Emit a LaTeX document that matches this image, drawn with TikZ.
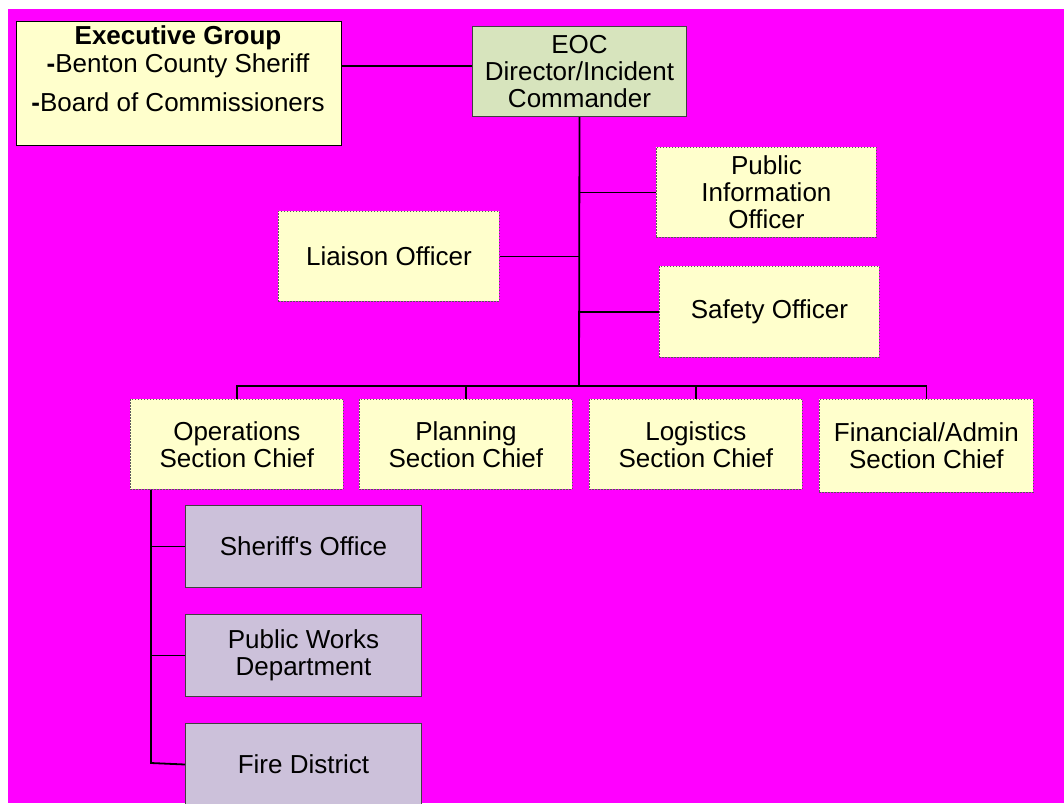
\documentclass[tikz,border=0pt]{standalone}
\usepackage{fontspec}
\setmainfont{Liberation Sans}[Ligatures=TeXOff]
\definecolor{bgmag}{HTML}{FF00FF}
\definecolor{boxyellow}{HTML}{FFFFCC}
\definecolor{boxgreen}{HTML}{D7E4BD}
\definecolor{boxpurple}{HTML}{CCC1DA}
\begin{document}
\begin{tikzpicture}[x=1pt,y=-1pt,
  every node/.style={font=\fontsize{26}{27}\selectfont, align=center, inner sep=0pt},
  basebox/.style={anchor=north west},
  execbox/.style={basebox, fill=boxyellow, draw=black, line width=1.2pt},
  eocbox/.style={basebox, fill=boxgreen, draw=black!75, line width=1pt},
  officerbox/.style={basebox, fill=boxyellow, draw=black!65, line width=0.8pt, dash pattern=on 1.5pt off 1.5pt},
  deptbox/.style={basebox, fill=boxpurple, draw=black!75, line width=1pt},
  link/.style={draw=black, line width=1.8pt}
]
\useasboundingbox (0,0) rectangle (1064,803);
\clip (0,0) rectangle (1064,803);
\fill[white] (0,0) rectangle (1064,803);
\fill[bgmag] (8,9) rectangle (1064,803);

% top level
\node[execbox, minimum width=325pt, minimum height=124pt] (exec) at (16,21) {};
\node (exectitle) at (178,38) {\textbf{Executive Group}};
\node (execl1) at (178,66) {\textbf{-}Benton County Sheriff};
\node (execl2) at (178,102) {\textbf{-}Board of Commissioners};
\node[eocbox, minimum width=214pt, minimum height=90pt] (eoc) at (472,26) {EOC\\Director/Incident\\Commander};

% command staff
\node[officerbox, minimum width=220pt, minimum height=90pt] (pio) at (656,147) {Public\\Information\\Officer};
\node[officerbox, minimum width=221pt, minimum height=90pt] (liaison) at (278,211) {Liaison Officer};
\node[officerbox, minimum width=220pt, minimum height=91pt] (safety) at (659,266) {Safety Officer};

% sections
\node[officerbox, minimum width=213pt, minimum height=90pt] (ops) at (130,399) {Operations\\Section Chief};
\node[officerbox, minimum width=213pt, minimum height=90pt] (plan) at (359,399) {Planning\\Section Chief};
\node[officerbox, minimum width=213pt, minimum height=90pt] (logi) at (589,399) {Logistics\\Section Chief};
\node[officerbox, minimum width=214pt, minimum height=93pt] (fin) at (819,399) {Financial/Admin\\Section Chief};

% departments
\node[deptbox, minimum width=236pt, minimum height=82pt] (sheriff) at (185,505) {Sheriff's Office};
\node[deptbox, minimum width=236pt, minimum height=82pt] (pw) at (185,614) {Public Works\\Department};
\node[deptbox, minimum width=236pt, minimum height=82pt] (fire) at (185,723) {Fire District};

% connector coordinates
\coordinate (j1) at (400,66);
\coordinate (bus) at (579,386);
\coordinate (opsline) at (151,763);

% connectors
\draw[link] (exec.east |- j1) -- (eoc.west |- j1);
\draw[link] (eoc.south) -- (bus);
\draw[link] (pio.west) -- (pio.west -| eoc.south);
\draw[link] (liaison.east) -- (liaison.east -| eoc.south);
\draw[link] (safety.west) -- (safety.west -| eoc.south);
\draw[link] (ops.north) -- (ops.north |- bus) -- (fin.north |- bus) -- (fin.north);
\draw[link] (plan.north) -- (plan.north |- bus);
\draw[link] (logi.north) -- (logi.north |- bus);
\draw[link] (ops.south -| opsline) -- (opsline) -- (fire.west);
\draw[link] (sheriff.west) -- (sheriff.west -| opsline);
\draw[link] (pw.west) -- (pw.west -| opsline);
\end{tikzpicture}
\end{document}
